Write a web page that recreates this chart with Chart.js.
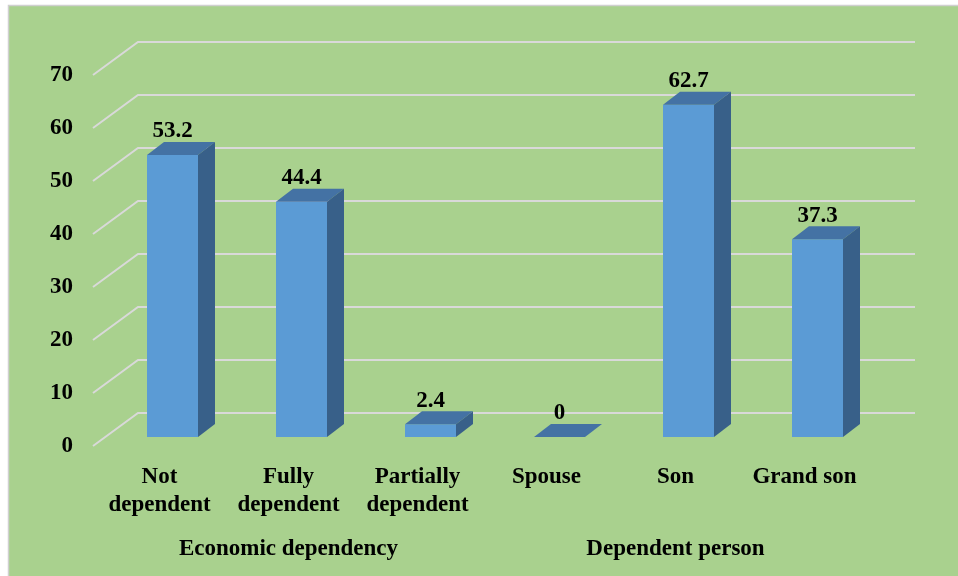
<!DOCTYPE html>
<html>
<head>
<meta charset="utf-8">
<script src="https://cdn.jsdelivr.net/npm/chart.js@4.4.1/dist/chart.umd.min.js"></script>
<style>
  html, body { margin: 0; padding: 0; background: #fff; }
  canvas { display: block; }
</style>
</head>
<body>
<canvas id="chart" width="958" height="576"></canvas>
<script>
// chart data
const categories = [["Not", "dependent"], ["Fully", "dependent"], ["Partially", "dependent"], "Spouse", "Son", "Grand son"];
const values = [53.2, 44.4, 2.4, 0, 62.7, 37.3];
const groups = ["Economic dependency", "Dependent person"];
const yTicks = [0, 10, 20, 30, 40, 50, 60, 70];

const FONT = "'Liberation Serif', 'Times New Roman', serif";
const GREEN = "#a9d18e";
const FRONT = "#5b9bd5";
const TOP = "#4472a4";
const SIDE = "#386089";
const GRID = "#d9d9d9";

// bar depth and wall offsets (3d look)
const DEPTH_X = 17, DEPTH_Y = 13;
const WALL_X = 45, WALL_Y = 33, WALL_SHIFT = 24;

const background = {
  id: "background",
  beforeDraw(chart) {
    const ctx = chart.ctx;
    ctx.save();
    ctx.fillStyle = "#fff";
    ctx.fillRect(0, 0, chart.width, chart.height);
    ctx.fillStyle = GREEN;
    ctx.fillRect(9, 6, chart.width - 9, chart.height - 6);
    ctx.strokeStyle = "#d0d0d0";
    ctx.lineWidth = 1.5;
    ctx.beginPath();
    ctx.moveTo(8.5, chart.height);
    ctx.lineTo(8.5, 5.5);
    ctx.lineTo(chart.width, 5.5);
    ctx.stroke();
    ctx.restore();
  }
};

const wallGrid = {
  id: "wallGrid",
  beforeDatasetsDraw(chart) {
    const ctx = chart.ctx;
    const y = chart.scales.y;
    const area = chart.chartArea;
    const frontX = area.left - 15;
    ctx.save();
    ctx.strokeStyle = GRID;
    ctx.lineWidth = 2;
    yTicks.forEach(v => {
      const yb = y.getPixelForValue(v) - WALL_SHIFT;
      ctx.beginPath();
      ctx.moveTo(frontX, yb + WALL_Y);
      ctx.lineTo(frontX + WALL_X, yb);
      ctx.lineTo(area.right + 33, yb);
      ctx.stroke();
    });
    ctx.restore();
  }
};

const bars3d = {
  id: "bars3d",
  afterDatasetsDraw(chart) {
    const ctx = chart.ctx;
    const meta = chart.getDatasetMeta(0);
    ctx.save();
    meta.data.forEach((bar, i) => {
      const { x, y, base, width } = bar.getProps(["x", "y", "base", "width"], true);
      const l = x - width / 2, r = x + width / 2;
      // top face
      ctx.fillStyle = TOP;
      ctx.beginPath();
      ctx.moveTo(l, y);
      ctx.lineTo(r, y);
      ctx.lineTo(r + DEPTH_X, y - DEPTH_Y);
      ctx.lineTo(l + DEPTH_X, y - DEPTH_Y);
      ctx.closePath();
      ctx.fill();
      // side face
      if (base - y > 0.5) {
        ctx.fillStyle = SIDE;
        ctx.beginPath();
        ctx.moveTo(r, y);
        ctx.lineTo(r + DEPTH_X, y - DEPTH_Y);
        ctx.lineTo(r + DEPTH_X, base - DEPTH_Y);
        ctx.lineTo(r, base);
        ctx.closePath();
        ctx.fill();
      }
      // value label
      ctx.fillStyle = "#000";
      ctx.font = "bold 23px " + FONT;
      ctx.textAlign = "center";
      ctx.textBaseline = "middle";
      ctx.fillText(String(values[i]), x, y - 23.5);
    });
    ctx.restore();
  }
};

Chart.defaults.font.family = FONT;
Chart.defaults.font.size = 23;
Chart.defaults.font.weight = "bold";
Chart.defaults.color = "#000";

new Chart(document.getElementById("chart"), {
  type: "bar",
  data: {
    labels: categories,
    datasets: [{
      data: values,
      backgroundColor: FRONT,
      borderWidth: 0,
      categoryPercentage: 1,
      barPercentage: 51 / 129
    }]
  },
  options: {
    responsive: false,
    animation: false,
    layout: { padding: { left: 0, right: 76, top: 66, bottom: 0 } },
    plugins: {
      legend: { display: false },
      tooltip: { enabled: false }
    },
    scales: {
      x: {
        weight: 0,
        grid: { display: false, drawTicks: false },
        border: { display: false },
        ticks: {
          padding: 26,
          labelOffset: -13,
          maxRotation: 0,
          autoSkip: false,
          font: { size: 23, weight: "bold", lineHeight: 1.22 }
        },
        afterFit(scale) { scale.height = 80; }
      },
      x2: {
        type: "category",
        position: "bottom",
        weight: 1,
        labels: groups,
        offset: true,
        grid: { display: false, drawTicks: false },
        border: { display: false },
        ticks: {
          padding: 18,
          labelOffset: -13,
          maxRotation: 0,
          autoSkip: false,
          font: { size: 23, weight: "bold", lineHeight: 1.22 }
        },
        afterFit(scale) { scale.height = 59; }
      },
      y: {
        min: 0,
        max: 70,
        grid: { display: false, drawTicks: false },
        border: { display: false },
        ticks: {
          stepSize: 10,
          padding: 35,
          labelOffset: 9,
          font: { size: 23, weight: "bold" }
        },
        afterFit(scale) { scale.width = 108; }
      }
    }
  },
  plugins: [background, wallGrid, bars3d]
});
</script>
</body>
</html>
